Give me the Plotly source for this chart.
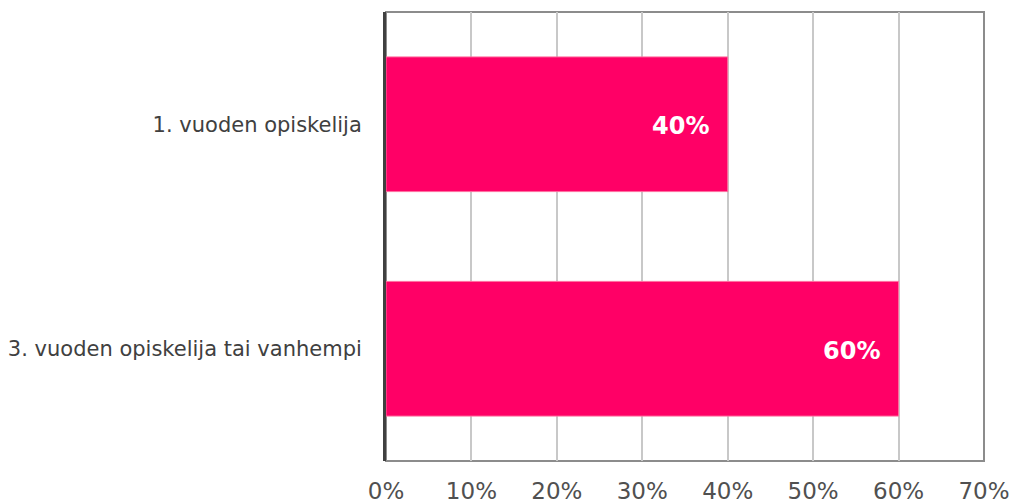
import plotly.graph_objects as go

categories = ["1. vuoden opiskelija", "3. vuoden opiskelija tai vanhempi"]
shares = [0.40, 0.60]
labels = ["40%", "60%"]

fig = go.Figure()

fig.add_trace(go.Bar(
    y=categories,
    x=shares,
    orientation="h",
    width=0.6,
    marker=dict(color="#ff0066", line=dict(color="#ff6f9f", width=1)),
    hoverinfo="skip",
))

for cat, val, lab in zip(categories, shares, labels):
    fig.add_annotation(
        x=val, y=cat, text="<b>" + lab + "</b>",
        xanchor="right", xshift=-17, yshift=-2, showarrow=False,
        font=dict(color="white", size=24, family="DejaVu Sans"),
    )

fig.add_shape(type="rect", xref="paper", yref="paper", x0=0, x1=1, y0=0, y1=1,
              line=dict(color="#8c8c8c", width=2), layer="below")

fig.update_layout(
    width=1011, height=504,
    margin=dict(l=386, r=27, t=12, b=43),
    plot_bgcolor="white", paper_bgcolor="white",
    showlegend=False,
    font=dict(family="DejaVu Sans", color="#404040"),
    xaxis=dict(
        range=[0, 0.7], dtick=0.1, tickformat=".0%",
        showgrid=True, gridcolor="#c8c8c8", gridwidth=2,
        zeroline=False, showline=False, automargin=False,
        tickfont=dict(size=23, color="#505050"),
        ticks="", ticklabelstandoff=14,
    ),
    yaxis=dict(
        autorange="reversed", automargin=False,
        showline=True, linecolor="#404040", linewidth=3,
        showgrid=False, zeroline=False,
        ticks="", ticklabelstandoff=17,
        tickfont=dict(size=21, color="#404040"),
    ),
)

fig.write_html("out.html", config={"displayModeBar": False},
               post_script="document.body.style.margin='0';")
